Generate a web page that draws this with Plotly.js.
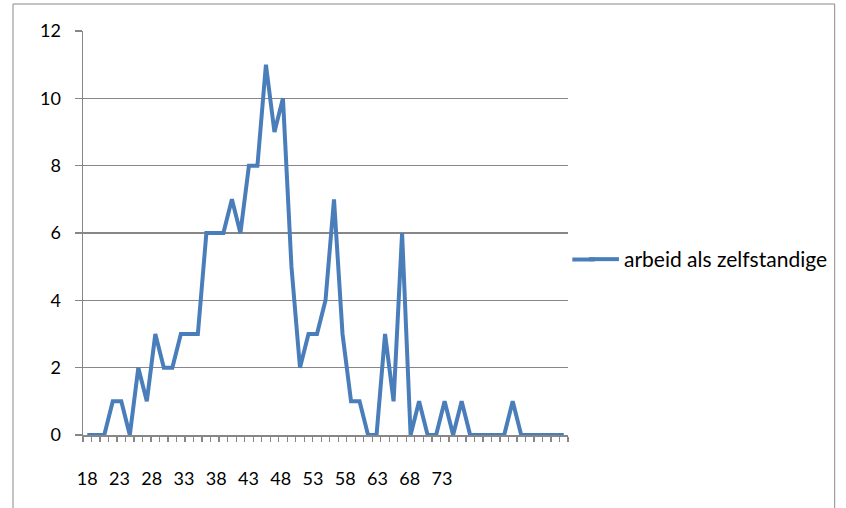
<!DOCTYPE html>
<html>
<head>
<meta charset="utf-8">
<script src="https://cdn.plot.ly/plotly-3.0.1.min.js"></script>
<style>html,body{margin:0;padding:0;background:#fff;}#chart{width:846px;height:508px;}</style>
</head>
<body>
<div id="chart"></div>
<script>
// categories: age 18..74
const ages = [18,19,20,21,22,23,24,25,26,27,28,29,30,31,32,33,34,35,36,37,38,39,40,41,42,43,44,45,46,47,48,49,50,51,52,53,54,55,56,57,58,59,60,61,62,63,64,65,66,67,68,69,70,71,72,73,74];
const values = [0,0,0,1,1,0,2,1,3,2,2,3,3,3,6,6,6,7,6,8,8,11,9,10,5,2,3,3,4,7,3,1,1,0,0,3,1,6,0,1,0,0,1,0,1,0,0,0,0,0,1,0,0,0,0,0,0];
const tickLabels = ["18","23","28","33","38","43","48","53","58","63","68","73"];
const seriesName = "arbeid als zelfstandige";

const GRAY = "#878787";
const BLUE = "#4a7ebb";
const FONT = "Lato, 'Open Sans', sans-serif";
const labelStep = 3.79; // horizontal spacing of category labels, in category units

const xmin = ages[0] - 0.5, xmax = ages[ages.length - 1] + 0.5;
const boundaries = [];
for (let i = 0; i <= ages.length; i++) boundaries.push(xmin + i);
const labelPos = tickLabels.map((t, k) => ages[0] + k * labelStep);

const trace = {
  x: ages, y: values, type: "scatter", mode: "lines", name: seriesName,
  line: {color: BLUE, width: 4}
};
// invisible helper trace for the label axis
const helper = {x: [xmin], y: [0], xaxis: "x2", type: "scatter", mode: "markers",
  marker: {opacity: 0}, showlegend: false, hoverinfo: "skip"};

const legendY = 0.4344;
const layout = {
  width: 846, height: 508,
  margin: {l: 82.5, r: 278, t: 31, b: 73},
  paper_bgcolor: "#ffffff", plot_bgcolor: "#ffffff",
  font: {family: FONT, size: 18, color: "#000000"},
  showlegend: true,
  legend: {x: 1.0329, xanchor: "left", y: legendY, yanchor: "middle",
    font: {family: FONT, size: 21, color: "#000"}, bgcolor: "rgba(0,0,0,0)"},
  xaxis: {type: "linear", range: [xmin, xmax], tickmode: "array", tickvals: boundaries,
    showticklabels: false, ticks: "outside", ticklen: 5, tickcolor: GRAY, tickwidth: 1.3,
    showline: true, linecolor: GRAY, linewidth: 1.5, showgrid: false, zeroline: false, fixedrange: true},
  xaxis2: {type: "linear", range: [xmin, xmax], overlaying: "x", anchor: "y", side: "bottom",
    tickmode: "array", tickvals: labelPos, ticktext: tickLabels, ticks: "outside", ticklen: 27,
    tickcolor: "rgba(0,0,0,0)", showline: false, showgrid: false, zeroline: false,
    tickfont: {family: FONT, size: 18, color: "#000"}},
  yaxis: {range: [0, 12], tickmode: "linear", tick0: 0, dtick: 2, showgrid: true,
    gridcolor: GRAY, gridwidth: 1.5, showline: true, linecolor: GRAY, linewidth: 1.5,
    ticks: "outside", ticklen: 7, tickcolor: GRAY, tickwidth: 1.3, zeroline: false,
    ticklabelstandoff: 10, tickfont: {family: FONT, size: 18, color: "#000"}},
  shapes: [
    {type: "rect", xref: "paper", yref: "paper", x0: -0.1443, x1: 1.5499, y0: -0.3, y1: 1.0668,
      line: {color: "#888888", width: 1}, fillcolor: "rgba(0,0,0,0)", layer: "below"},
    // extends the legend's line sample to the reference length
    {type: "line", xref: "paper", yref: "paper", x0: 1.0089, x1: 1.055, y0: legendY, y1: legendY,
      line: {color: BLUE, width: 4}}
  ]
};

Plotly.newPlot("chart", [trace, helper], layout, {displayModeBar: false, staticPlot: true});
</script>
</body>
</html>
